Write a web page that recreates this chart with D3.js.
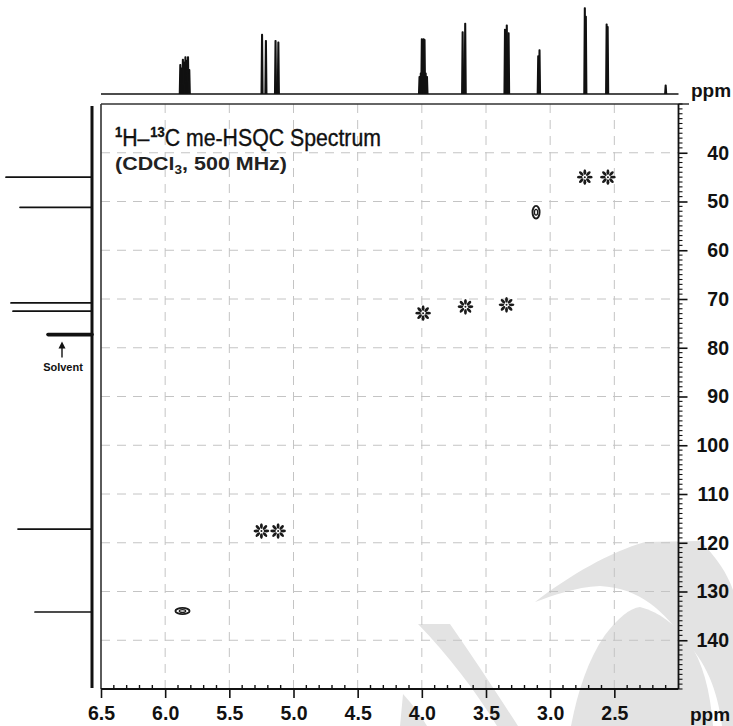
<!DOCTYPE html>
<html><head><meta charset="utf-8">
<script src="https://cdn.jsdelivr.net/npm/d3@7/dist/d3.min.js"></script>
<style>body{margin:0;background:#fff}svg{display:block}</style>
</head><body>
<svg id="c" width="733" height="726"></svg>
<script>
// ---- data ----
const xTickValues = [6.5, 6.0, 5.5, 5.0, 4.5, 4.0, 3.5, 3.0, 2.5];
const yTickValues = [40, 50, 60, 70, 80, 90, 100, 110, 120, 130, 140];
const crossH = [2.73, 2.55, 3.99, 3.66, 3.34, 5.25, 5.12];
const crossC = [45.0, 45.0, 72.9, 71.6, 71.2, 117.6, 117.6];
const contourH = [3.11, 5.865];
const contourC = [52.2, 134.0];
const contourWidthH = [0.055, 0.11];
const contourWidthC = [2.6, 1.3];
const protonPPM = [5.882, 5.872, 5.862, 5.852, 5.842, 5.832, 5.822, 5.812,
  5.245, 5.215, 5.14, 5.118,
  4.018, 4.008, 4.0, 3.993, 3.986, 3.979, 3.97, 3.96,
  3.682, 3.662,
  3.352, 3.338, 3.324,
  3.093, 3.083,
  2.73, 2.722,
  2.56, 2.552,
  2.10];
const protonInt = [34, 30, 40, 37, 43, 39, 43, 28,
  69, 62, 62, 60,
  20, 24, 64, 63, 64, 63, 24, 20,
  72, 82,
  75, 80, 71,
  44, 51,
  100, 90,
  81, 78,
  10];
const carbonPPM = [45.0, 51.2, 70.8, 72.5, 77.3, 117.2, 134.2];
const carbonInt = [86, 72, 81, 79, 44, 74, 57];
const solventIndex = 4;

// ---- layout ----
const svg = d3.select("#c");
const L = 101, R = 678.5, T = 104, B = 689;
const x = d3.scaleLinear().domain([6.5, 2.0]).range([L, R]);
const y = d3.scaleLinear().domain([30, 150]).range([T, B]);
const yTop = d3.scaleLinear().domain([0, 100]).range([94, 8]);
const xLeft = d3.scaleLinear().domain([0, 86]).range([92, 6]);
const FONT = "'Liberation Sans', Arial, Helvetica, sans-serif";

// watermark
const wm = svg.append("g").attr("fill", "#e3e3e3");
wm.append("path").attr("d", "M 535 602 C 570 575 610 552 645 542 L 700 541 C 716 556 728 575 733 590 L 733 726 L 722 726 C 718 690 705 660 684 640 C 665 612 640 588 600 586 C 575 587 552 596 535 602 Z");
wm.append("path").attr("d", "M 571 726 C 578 690 588 660 605 635 C 618 618 630 608 640 607 C 660 612 675 625 688 641 C 703 662 710 690 713 726 Z");
wm.append("path").attr("d", "M 418 624 L 450 624 C 475 660 498 695 518 726 L 497 726 C 475 690 448 655 418 624 Z");
wm.append("path").attr("d", "M 400 726 L 403 694 C 412 704 420 714 427 726 Z");

// grid
const grid = svg.append("g").attr("stroke", "#c4c4c4").attr("stroke-width", 1).attr("stroke-dasharray", "9,7");
grid.selectAll("line.v").data(xTickValues.filter(d => d < 6.5)).join("line").attr("class", "v")
  .attr("x1", d => x(d)).attr("x2", d => x(d)).attr("y1", T).attr("y2", B);
grid.selectAll("line.h").data(yTickValues).join("line").attr("class", "h")
  .attr("y1", d => y(d)).attr("y2", d => y(d)).attr("x1", L).attr("x2", R);

// frame
svg.append("line").attr("x1", L).attr("x2", 689).attr("y1", T).attr("y2", T).attr("stroke", "#333").attr("stroke-width", 1.6);
svg.append("line").attr("x1", L).attr("x2", L).attr("y1", T).attr("y2", B).attr("stroke", "#333").attr("stroke-width", 1.6);

// bottom axis
const ax = d3.axisBottom(x).tickValues(xTickValues).tickSize(9).tickPadding(8).tickFormat(d3.format(".1f"));
const gx = svg.append("g").attr("transform", `translate(0,${B})`).call(ax);
gx.select(".domain").attr("stroke", "#111").attr("stroke-width", 1.8).attr("d", `M${L},0H${R}`);
gx.selectAll(".tick line").attr("stroke", "#111").attr("stroke-width", 1.6);
gx.selectAll("text").attr("font-family", FONT).attr("font-size", 19.5).attr("font-weight", "bold").attr("fill", "#111");
const minorX = d3.range(64, 20, -1).map(d => d / 10).filter(d => !xTickValues.includes(d));
gx.selectAll("line.mx").data(minorX).join("line").attr("class", "mx")
  .attr("x1", d => x(d)).attr("x2", d => x(d)).attr("y1", 0).attr("y2", -4).attr("stroke", "#111").attr("stroke-width", 1.4);
svg.append("text").attr("x", 690).attr("y", 721).text("ppm").attr("font-family", FONT).attr("font-size", 19).attr("font-weight", "bold").attr("fill", "#111");

// right axis
const ay = d3.axisRight(y).tickValues(yTickValues).tickSize(9).tickPadding(0);
const gy = svg.append("g").attr("transform", `translate(${R},0)`).call(ay);
gy.select(".domain").attr("stroke", "#111").attr("stroke-width", 1.8).attr("d", `M0,${T}V${B}`);
gy.selectAll(".tick line").attr("stroke", "#111").attr("stroke-width", 1.6);
gy.selectAll("text").attr("x", 50.5).attr("text-anchor", "end").attr("font-family", FONT).attr("font-size", 19.5).attr("font-weight", "bold").attr("fill", "#111");
const minorY = d3.range(30, 151, 1).filter(d => !yTickValues.includes(d));
gy.selectAll("line.my").data(minorY).join("line").attr("class", "my")
  .attr("y1", d => y(d)).attr("y2", d => y(d)).attr("x1", 0).attr("x2", 4).attr("stroke", "#111").attr("stroke-width", 1.1);

// top 1H spectrum
const gTop = svg.append("g");
gTop.append("line").attr("x1", x(6.5)).attr("x2", x(2.0)).attr("y1", yTop(0)).attr("y2", yTop(0)).attr("stroke", "#111").attr("stroke-width", 1.5);
const pkLine = d3.line().x(d => x(d[0])).y(d => yTop(d[1]));
gTop.selectAll("path.pk").data(protonPPM.map((p, i) => [p, protonInt[i]])).join("path").attr("class", "pk")
  .attr("d", d => pkLine([[d[0] + 0.006, 0], [d[0] + 0.0018, d[1]], [d[0] - 0.0018, d[1]], [d[0] - 0.006, 0]]))
  .attr("fill", "#111").attr("stroke", "#111").attr("stroke-width", 1.6).attr("stroke-linejoin", "round");
svg.append("text").attr("x", 691).attr("y", 97).text("ppm").attr("font-family", FONT).attr("font-size", 19).attr("font-weight", "bold").attr("fill", "#111");

// left 13C projection
const gLeft = svg.append("g");
gLeft.append("line").attr("x1", 92).attr("x2", 92).attr("y1", 106).attr("y2", 688).attr("stroke", "#111").attr("stroke-width", 3);
gLeft.selectAll("line.cp").data(carbonPPM.map((c, i) => [c, carbonInt[i], i])).join("line").attr("class", "cp")
  .attr("x1", xLeft(0)).attr("x2", d => xLeft(d[1])).attr("y1", d => y(d[0])).attr("y2", d => y(d[0]))
  .attr("stroke", "#111").attr("stroke-width", d => d[2] === solventIndex ? 3.6 : 1.7).attr("stroke-linecap", "round");
const sy = y(carbonPPM[solventIndex]);
gLeft.append("line").attr("x1", 62).attr("x2", 62).attr("y1", sy + 23).attr("y2", sy + 10).attr("stroke", "#111").attr("stroke-width", 1.4);
gLeft.append("path").attr("d", `M58.5,${sy + 14} L62,${sy + 7} L65.5,${sy + 14} Z`).attr("fill", "#111");
gLeft.append("text").attr("x", 63).attr("y", sy + 36).attr("text-anchor", "middle").text("Solvent")
  .attr("font-family", FONT).attr("font-size", 11).attr("font-weight", "bold").attr("fill", "#111");

// cross peaks (multiplet flowers)
const flowers = svg.append("g").attr("fill", "#1a1a1a");
crossH.forEach((h, i) => {
  const g = flowers.append("g").attr("transform", `translate(${x(h)},${y(crossC[i])})`);
  for (let k = 0; k < 8; k++) {
    g.append("ellipse").attr("cx", 5.0).attr("cy", 0).attr("rx", 2.9).attr("ry", 1.45)
      .attr("transform", `rotate(${k * 45})`);
  }
  g.append("circle").attr("r", 1.0);
});

// contour peaks
const cont = svg.append("g").attr("fill", "none").attr("stroke", "#1a1a1a").attr("stroke-width", 1.9);
contourH.forEach((h, i) => {
  const cx = x(h), cy = y(contourC[i]);
  const rx = (x(h) - x(h + contourWidthH[i] / 2)), ry = (y(contourC[i] + contourWidthC[i] / 2) - cy);
  cont.append("ellipse").attr("cx", cx).attr("cy", cy).attr("rx", rx).attr("ry", ry);
  cont.append("ellipse").attr("cx", cx).attr("cy", cy).attr("rx", rx * 0.45).attr("ry", ry * 0.45).attr("stroke-width", 1.3);
});

// title
const t1 = svg.append("text").attr("x", 115).attr("y", 146).attr("font-family", FONT).attr("font-size", 23).attr("fill", "#111")
  .attr("stroke", "#111").attr("stroke-width", 0.35)
  .attr("textLength", 266).attr("lengthAdjust", "spacingAndGlyphs");
t1.append("tspan").text("1").attr("font-size", 14).attr("font-weight", "bold").attr("dy", -9);
t1.append("tspan").text("H–").attr("dy", 9);
t1.append("tspan").text("13").attr("font-size", 14).attr("font-weight", "bold").attr("dy", -9).attr("dx", 1);
t1.append("tspan").text("C me-HSQC Spectrum").attr("dy", 9);
const t2 = svg.append("text").attr("x", 115).attr("y", 170).attr("font-family", FONT).attr("font-size", 19).attr("font-weight", "bold").attr("fill", "#222")
  .attr("textLength", 172).attr("lengthAdjust", "spacingAndGlyphs");
t2.append("tspan").text("(CDCl");
t2.append("tspan").text("3").attr("font-size", 12).attr("dy", 4);
t2.append("tspan").text(", 500 MHz)").attr("dy", -4);
</script>
</body></html>
